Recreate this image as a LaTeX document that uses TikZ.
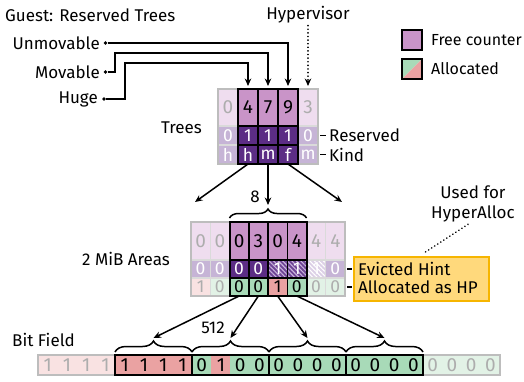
\documentclass[tikz,border=0pt]{standalone}
\usepackage{fontspec}
\setmainfont{Fira Sans}
\usetikzlibrary{arrows.meta,decorations.pathreplacing,patterns.meta}
\definecolor{fc}{HTML}{C994C8}
\definecolor{fcf}{HTML}{EFDDEF}
\definecolor{dp}{HTML}{5C2D85}
\definecolor{dpf}{HTML}{C6B4D6}
\definecolor{hp}{HTML}{6E4494}
\definecolor{hpl}{HTML}{C9B3DC}
\definecolor{hpf}{HTML}{DCD0E6}
\definecolor{gr}{HTML}{A8DAB8}
\definecolor{grf}{HTML}{E2F2E6}
\definecolor{rd}{HTML}{EAA2A2}
\definecolor{rdf}{HTML}{F9E2E2}
\definecolor{fadetxt}{HTML}{ADADAD}
\definecolor{fadeframe}{HTML}{BDBDBD}
\definecolor{fadeinner}{HTML}{DADADA}
\definecolor{ybox}{HTML}{FFD97C}
\definecolor{yline}{HTML}{F6B500}
\begin{document}
\begin{tikzpicture}[x=1pt,y=-1pt,
  lbl/.style={font=\fontsize{17}{20}\selectfont, inner sep=0pt},
  leg/.style={font=\fontsize{16}{18}\selectfont, inner sep=0pt},
  cell/.style={inner sep=0pt, outer sep=0pt, font=\fontsize{19}{19}\selectfont},
  scell/.style={cell, font=\fontsize{17.5}{17.5}\selectfont},
  conn/.style={line width=1.5pt, -{Stealth[length=7.5pt,width=6.5pt]}},
  dotconn/.style={line width=1.8pt, dash pattern=on 0.01pt off 3.6pt, line cap=round, -{Stealth[length=7.5pt,width=6.5pt]}},
  dotline/.style={line width=1.8pt, dash pattern=on 0.01pt off 3.6pt, line cap=round},
  bulletdot/.style={circle, fill=black, inner sep=0pt, minimum size=3.8pt},
  hatchcell/.style={fill=hp, postaction={pattern={Lines[angle=-45,distance=3.2pt,line width=1.1pt]}, pattern color=hpl}},
  hatchfade/.style={fill=hpf, postaction={pattern={Lines[angle=-45,distance=3.2pt,line width=1.1pt]}, pattern color=white}},
  bracest/.style={decorate, decoration={brace, amplitude=#1}, line width=1.5pt},
  bracest/.default=11pt,
  tinydash/.style={line width=1.3pt},
]
\useasboundingbox (0,0) rectangle (524,381);

% ---------- labels top ----------
\node[lbl, anchor=west] (title) at (5,15) {Guest: Reserved Trees};
\node[lbl] (hyp) at (308,15) {Hypervisor};
\node[lbl, anchor=east] (lU) at (100,43) {Unmovable};
\node[lbl, anchor=east] (lM) at (100,72) {Movable};
\node[lbl, anchor=east] (lH) at (98,99) {Huge};
\node[bulletdot] (dU) at (105.5,43) {};
\node[bulletdot] (dM) at (105.5,72) {};
\node[bulletdot] (dH) at (104,99) {};

% ---------- legend ----------
\node[draw, line width=1.5pt, fill=fc, minimum size=20pt, inner sep=0pt] (lg1) at (412,40) {};
\node[leg, anchor=west] (lgt1) at (431,40) {Free counter};
\node[minimum size=20pt, inner sep=0pt] (lg2) at (412,69) {};
\fill[gr] (lg2.north west) -- (lg2.north east) -- (lg2.south west) -- cycle;
\fill[rd] (lg2.north east) -- (lg2.south east) -- (lg2.south west) -- cycle;
\draw[line width=1.5pt] (lg2.north west) rectangle (lg2.south east);
\node[leg, anchor=west] (lgt2) at (431,69) {Allocated};

% ---------- trees ----------
\foreach \v/\f/\t [count=\i] in {0/fcf/fadetxt,4/fc/black,7/fc/black,9/fc/black,3/fcf/fadetxt}
  \node[cell, minimum width=20pt, minimum height=37pt, fill=\f, text=\t] (t1\i) at ({208+20*\i},107.5) {\v};
\foreach \v/\f [count=\i] in {0/dpf,1/dp,1/dp,1/dp,0/dpf}
  \node[scell, minimum width=20pt, minimum height=19pt, fill=\f, text=white] (t2\i) at ({208+20*\i},135.5) {\v};
\foreach \v/\f [count=\i] in {h/dpf,h/dp,m/dp,f/dp,m/dpf}
  \node[scell, minimum width=20pt, minimum height=19pt, fill=\f, text=white] (t3\i) at ({208+20*\i},154.5) {\v};
\draw[fadeinner, line width=1.2pt] (218,126) -- (238,126) (218,145) -- (238,145) (298,126) -- (318,126) (298,145) -- (318,145);
\draw[fadeframe, line width=1.5pt] (218,89) rectangle (318,164);
\draw[line width=1.5pt] (258,89) -- (258,164) (278,89) -- (278,164) (238,126) -- (298,126) (238,145) -- (298,145);
\draw[line width=2pt] (238,89) rectangle (298,164);
\node[lbl, anchor=east] (treesl) at (202,128) {Trees};
\node[lbl, anchor=west] (lR) at (329,135.5) {Reserved};
\node[lbl, anchor=west] (lK) at (329,154.5) {Kind};
\draw[tinydash] ([xshift=2pt]t25.east) -- ([xshift=-3pt]lR.west);
\draw[tinydash] ([xshift=2pt]t35.east) -- ([xshift=-3pt]lK.west);

% connectors into trees
\draw[conn, shorten >=3pt] (dU) -| (t14);
\draw[conn, shorten >=3pt] (dM) -- (115,72) -- (115,53) -| (t13);
\draw[conn, shorten >=3pt] (dH) -- (125,99) -- (125,63) -| (t12);
\draw[dotconn, shorten >=3pt, shorten <=2pt] (hyp) -- (t15);

% ---------- areas ----------
\foreach \v/\f/\t [count=\i] in {0/fcf/fadetxt,0/fcf/fadetxt,0/fc/black,3/fc/black,0/fc/black,4/fc/black,4/fcf/fadetxt,4/fcf/fadetxt}
  \node[cell, minimum width=19.25pt, minimum height=38pt, fill=\f, text=\t] (a1\i) at ({181.375+19.25*\i},241) {\v};
\node[scell, minimum width=19.25pt, minimum height=18pt, fill=dpf, text=white] (a21) at (200.625,269) {0};
\node[scell, minimum width=19.25pt, minimum height=18pt, fill=dpf, text=white] (a22) at (219.875,269) {0};
\node[scell, minimum width=19.25pt, minimum height=18pt, fill=dp, text=white] (a23) at (239.125,269) {0};
\node[scell, minimum width=19.25pt, minimum height=18pt, fill=dp, text=white] (a24) at (258.375,269) {0};
\node[scell, minimum width=19.25pt, minimum height=18pt, hatchcell, text=white] (a25) at (277.625,269) {1};
\node[scell, minimum width=19.25pt, minimum height=18pt, hatchcell, text=white] (a26) at (296.875,269) {1};
\node[scell, minimum width=19.25pt, minimum height=18pt, hatchfade, text=white] (a27) at (316.125,269) {1};
\node[scell, minimum width=19.25pt, minimum height=18pt, fill=dpf, text=white] (a28) at (335.375,269) {0};
\foreach \v/\f/\t [count=\i] in {1/rdf/fadetxt,0/grf/fadetxt,0/gr/black,0/gr/black,1/rd/black,0/gr/black,0/grf/fadetxt,0/grf/fadetxt}
  \node[scell, minimum width=19.25pt, minimum height=18pt, fill=\f, text=\t] (a3\i) at ({181.375+19.25*\i},287) {\v};
\draw[fadeinner, line width=1.2pt] (210.25,222) -- (210.25,296) (325.75,222) -- (325.75,296)
  (191,260) -- (229.5,260) (191,278) -- (229.5,278) (306.5,260) -- (345,260) (306.5,278) -- (345,278);
\draw[fadeframe, line width=1.5pt] (191,222) rectangle (345,296);
\draw[line width=1.5pt] (248.75,222) -- (248.75,296) (268,222) -- (268,296) (287.25,222) -- (287.25,296)
  (229.5,260) -- (306.5,260) (229.5,278) -- (306.5,278);
\draw[line width=2pt] (229.5,222) rectangle (306.5,296);
\node[lbl, anchor=east] (areasl) at (170,259) {2 MiB Areas};

% brace 8
\draw[bracest=9pt] (229.5,218) -- (306.5,218);
\node[lbl] (eight) at (255,197) {8};
\coordinate (b8) at (268,205);
\coordinate (aL) at (195,202);
\coordinate (aR) at (342,202);
\draw[conn] (t32.south) -- (aL);
\draw[conn] (t33.south) -- (b8);
\draw[conn] (t34.south) -- (aR);

% yellow box
\node[draw=yline, fill=ybox, line width=1.5pt, minimum width=135pt, minimum height=44pt, inner sep=0pt] (yb) at (421.5,279) {};
\node[lbl, anchor=west] (lE) at (358,269) {Evicted Hint};
\node[lbl, anchor=west] (lA) at (358,287) {Allocated as HP};
\draw[tinydash] ([xshift=2pt]a28.east) -- ([xshift=-1pt]yb.west |- a28.east);
\draw[tinydash] ([xshift=2pt]a38.east) -- ([xshift=-1pt]yb.west |- a38.east);
\node[lbl, align=center] (used) at (473,204) {Used for\\HyperAlloc};
\draw[dotline] ([xshift=-5pt,yshift=-2pt]used.south) -- ([xshift=2pt,yshift=3pt]yb.north);

% ---------- bit field ----------
\foreach \v/\f/\t [count=\i] in {1/rdf/fadetxt,1/rdf/fadetxt,1/rdf/fadetxt,1/rdf/fadetxt,
  1/rd/black,1/rd/black,1/rd/black,1/rd/black,
  0/gr/black,1/rd/black,0/gr/black,0/gr/black,
  0/gr/black,0/gr/black,0/gr/black,0/gr/black,
  0/gr/black,0/gr/black,0/gr/black,0/gr/black,
  0/grf/fadetxt,0/grf/fadetxt,0/grf/fadetxt,0/grf/fadetxt}
  \node[cell, minimum width=19.3pt, minimum height=20pt, fill=\f, text=\t] (b\i) at ({28.375+19.25*\i},365) {\v};
\draw[fadeframe, line width=1.5pt] (38,355) rectangle (115,375) (423,355) rectangle (500,375);
\draw[line width=2pt] (115,355) rectangle (192,375) (192,355) rectangle (269,375) (269,355) rectangle (346,375) (346,355) rectangle (423,375);
\node[lbl, anchor=west] (bitl) at (12,340) {Bit Field};

\draw[bracest] (115,352) -- (192,352);
\draw[bracest] (192,352) -- (269,352);
\draw[bracest] (269,352) -- (346,352);
\draw[bracest] (346,352) -- (423,352);
\coordinate (bt1) at (153.5,338);
\coordinate (bt2) at (230.5,338);
\coordinate (bt3) at (307.5,338);
\coordinate (bt4) at (384.5,338);
\node[lbl] (n512) at (213,328) {512};
\draw[conn] (a33.south) -- (bt1);
\draw[conn] (a34.south) -- (bt2);
\draw[conn] (a35.south) -- (bt3);
\draw[conn] (a36.south) -- (bt4);
\end{tikzpicture}
\end{document}
